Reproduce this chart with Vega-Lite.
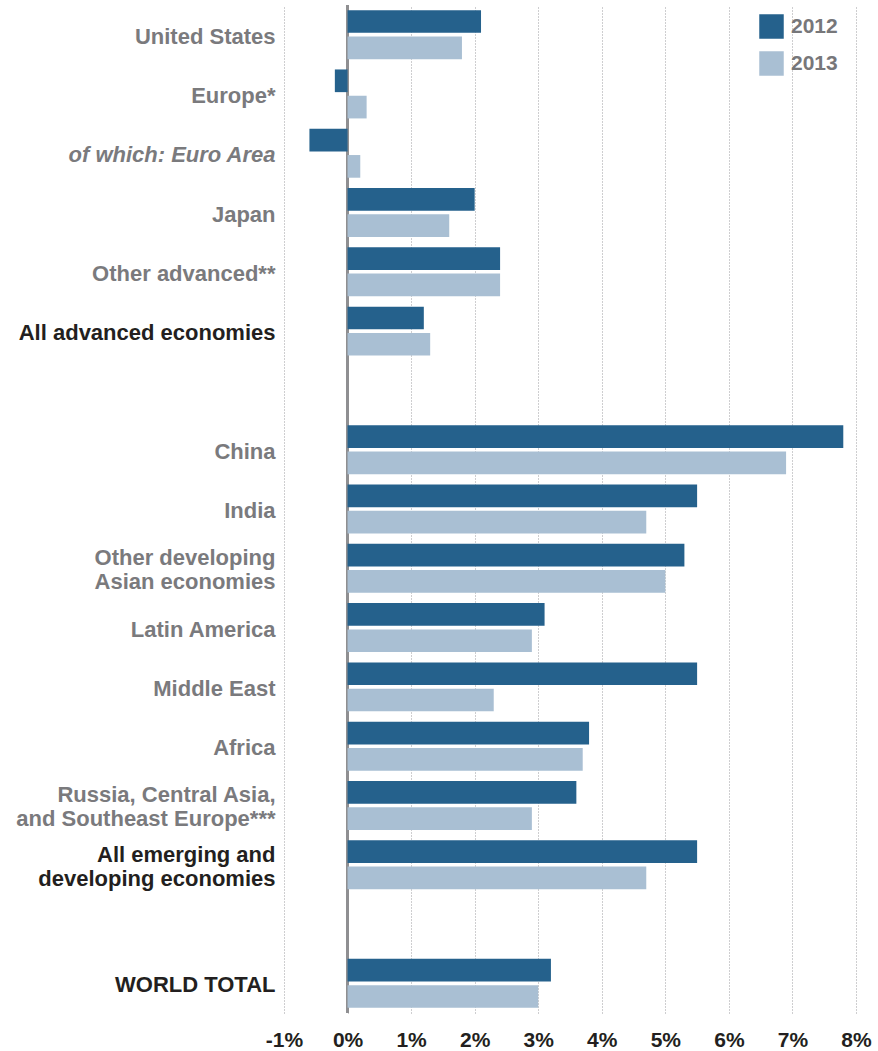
{
  "$schema": "https://vega.github.io/schema/vega-lite/v6.json",
  "width": 572,
  "height": 1008,
  "autosize": "none",
  "padding": {"left": 284, "top": 5, "right": 22, "bottom": 38},
  "background": "white",
  "config": {
    "view": {"stroke": null},
    "font": "Liberation Sans"
  },
  "data": {
    "values": [
      {"region": "United States", "year": "2012", "growth": 2.1},
      {"region": "United States", "year": "2013", "growth": 1.8},
      {"region": "Europe*", "year": "2012", "growth": -0.2},
      {"region": "Europe*", "year": "2013", "growth": 0.3},
      {"region": "of which: Euro Area", "year": "2012", "growth": -0.6},
      {"region": "of which: Euro Area", "year": "2013", "growth": 0.2},
      {"region": "Japan", "year": "2012", "growth": 2.0},
      {"region": "Japan", "year": "2013", "growth": 1.6},
      {"region": "Other advanced**", "year": "2012", "growth": 2.4},
      {"region": "Other advanced**", "year": "2013", "growth": 2.4},
      {"region": "All advanced economies", "year": "2012", "growth": 1.2},
      {"region": "All advanced economies", "year": "2013", "growth": 1.3},
      {"region": "China", "year": "2012", "growth": 7.8},
      {"region": "China", "year": "2013", "growth": 6.9},
      {"region": "India", "year": "2012", "growth": 5.5},
      {"region": "India", "year": "2013", "growth": 4.7},
      {"region": "Other developing|Asian economies", "year": "2012", "growth": 5.3},
      {"region": "Other developing|Asian economies", "year": "2013", "growth": 5.0},
      {"region": "Latin America", "year": "2012", "growth": 3.1},
      {"region": "Latin America", "year": "2013", "growth": 2.9},
      {"region": "Middle East", "year": "2012", "growth": 5.5},
      {"region": "Middle East", "year": "2013", "growth": 2.3},
      {"region": "Africa", "year": "2012", "growth": 3.8},
      {"region": "Africa", "year": "2013", "growth": 3.7},
      {"region": "Russia, Central Asia,|and Southeast Europe***", "year": "2012", "growth": 3.6},
      {"region": "Russia, Central Asia,|and Southeast Europe***", "year": "2013", "growth": 2.9},
      {"region": "All emerging and|developing economies", "year": "2012", "growth": 5.5},
      {"region": "All emerging and|developing economies", "year": "2013", "growth": 4.7},
      {"region": "WORLD TOTAL", "year": "2012", "growth": 3.2},
      {"region": "WORLD TOTAL", "year": "2013", "growth": 3.0}
    ]
  },
  "encoding": {
    "y": {
      "field": "region",
      "type": "nominal",
      "scale": {
        "domain": [
          "United States", "Europe*", "of which: Euro Area", "Japan", "Other advanced**", "All advanced economies",
          "gap1",
          "China", "India", "Other developing|Asian economies", "Latin America", "Middle East", "Africa",
          "Russia, Central Asia,|and Southeast Europe***", "All emerging and|developing economies",
          "gap2",
          "WORLD TOTAL"
        ],
        "paddingInner": 0.174,
        "paddingOuter": 0.087
      },
      "axis": {
        "title": null,
        "domain": false,
        "ticks": false,
        "labelPadding": 9,
        "labelFont": "Liberation Sans",
        "labelFontSize": 22,
        "labelFontWeight": "bold",
        "labelLineHeight": 24,
        "labelLimit": 400,
        "labelExpr": "indexof(datum.value, 'gap') === 0 ? '' : split(datum.value, '|')",
        "labelOffset": {
          "condition": {"test": "indexof(datum.value, '|') >= 0", "value": -10},
          "value": 2
        },
        "labelColor": {
          "condition": {
            "test": "datum.value === 'All advanced economies' || datum.value === 'All emerging and|developing economies' || datum.value === 'WORLD TOTAL'",
            "value": "#231f20"
          },
          "value": "#7a7a7d"
        },
        "labelFontStyle": {
          "condition": {"test": "datum.value === 'of which: Euro Area'", "value": "italic"},
          "value": "normal"
        }
      }
    }
  },
  "layer": [
    {
      "mark": {"type": "rule", "color": "#8f8f92", "strokeWidth": 2},
      "encoding": {"x": {"datum": 0, "type": "quantitative"}, "y": null}
    },
    {
      "mark": {"type": "bar"},
      "encoding": {
        "x": {
          "field": "growth",
          "type": "quantitative",
          "scale": {"domain": [-1, 8], "nice": false},
          "axis": {
            "title": null,
            "values": [-1, 0, 1, 2, 3, 4, 5, 6, 7, 8],
            "labelExpr": "datum.value + '%'",
            "domain": false,
            "ticks": false,
            "grid": true,
            "gridColor": "#9d9da0",
            "gridDash": [1, 2],
            "gridWidth": 1,
            "labelPadding": 16,
            "labelFont": "Liberation Sans",
            "labelFontSize": 21,
            "labelFontWeight": "bold",
            "labelColor": "#231f20",
            "labelFlush": false
          }
        },
        "yOffset": {
          "field": "year",
          "type": "nominal",
          "sort": ["2012", "2013"],
          "scale": {"paddingInner": 0.137, "paddingOuter": 0}
        },
        "color": {
          "field": "year",
          "type": "nominal",
          "scale": {"domain": ["2012", "2013"], "range": ["#25618c", "#a9bfd3"]},
          "legend": {
            "title": null,
            "orient": "none",
            "legendX": 475,
            "legendY": 9,
            "padding": 0,
            "symbolType": "square",
            "symbolSize": 600,
            "symbolStrokeWidth": 0,
            "symbolOpacity": 1,
            "rowPadding": 12,
            "labelOffset": 7,
            "labelFont": "Liberation Sans",
            "labelFontSize": 21,
            "labelFontWeight": "bold",
            "labelColor": "#77777a"
          }
        }
      }
    }
  ]
}
